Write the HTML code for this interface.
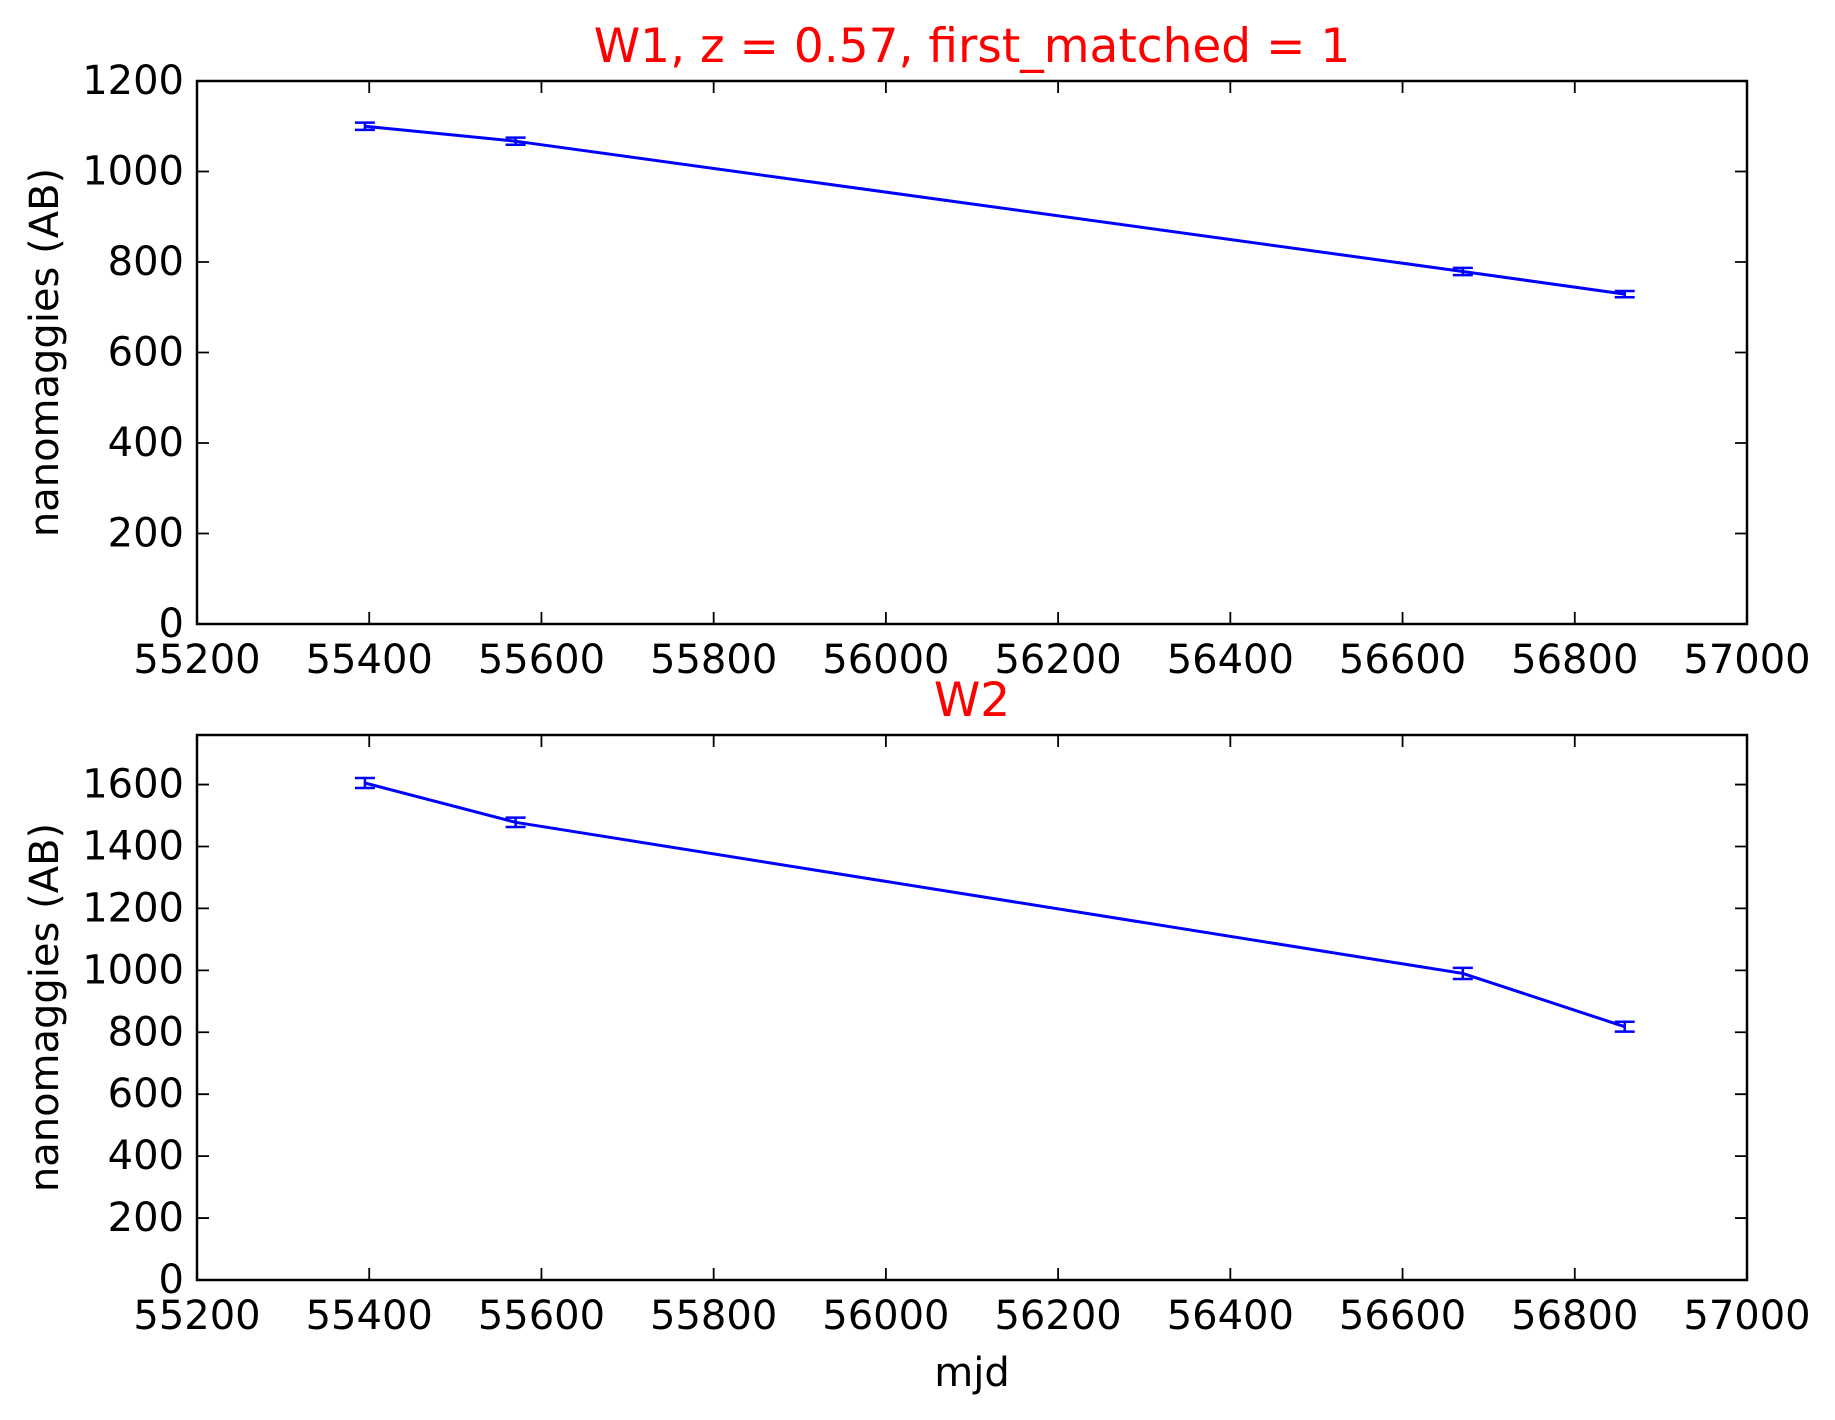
<!DOCTYPE html>
<html><head><meta charset="utf-8"><style>body{margin:0;background:#fff}svg{display:block}text{font-family:"DejaVu Sans","Liberation Sans",sans-serif}</style></head>
<body>
<svg id="chart" width="1835" height="1420" viewBox="0 0 1835 1420" xmlns="http://www.w3.org/2000/svg"></svg>
<script>
const xTicks = [55200,55400,55600,55800,56000,56200,56400,56600,56800,57000];
const w1Mjd = [55395,55570,56670,56858];
const w1Flux = [1100,1067,779,729];
const w1Err = [8,8,8,7];
const w1YTicks = [0,200,400,600,800,1000,1200];
const w2Mjd = [55395,55570,56670,56858];
const w2Flux = [1605,1478,990,818];
const w2Err = [16,15,18,16];
const w2YTicks = [0,200,400,600,800,1000,1200,1400,1600];

const NS='http://www.w3.org/2000/svg';
const svg=document.getElementById('chart');
function mk(tag,attrs,parent){const e=document.createElementNS(NS,tag);for(const k in attrs)e.setAttribute(k,attrs[k]);(parent||svg).appendChild(e);return e;}
const L=197,R=1747;
function xs(v){return L+(v-55200)/(57000-55200)*(R-L);}

function panel(name,top,bottom,ymax,yTicks,mjd,flux,err,title){
  const g=mk('g',{});
  
  
  const ys=v=>bottom-v/ymax*(bottom-top);
  // data line
  let d='';
  mjd.forEach((m,i)=>{d+=(i?'L':'M')+xs(m)+' '+ys(flux[i]);});
  const line=mk('path',{d:d,fill:'none',stroke:'#0000ff','stroke-width':3},g);
  
  
  mjd.forEach((m,i)=>{
    const x=xs(m),y1=ys(flux[i]+err[i]),y2=ys(flux[i]-err[i]);
    const eb=mk('path',{d:`M${x} ${y1}L${x} ${y2}M${x-10} ${y1}L${x+10} ${y1}M${x-10} ${y2}L${x+10} ${y2}`,stroke:'#0000ff','stroke-width':2.5,fill:'none'},g);
    
    
  });
  // frame
  const fr=mk('rect',{x:L,y:top,width:R-L,height:bottom-top,fill:'none',stroke:'#000','stroke-width':2.5},g);
  
  
  xTicks.forEach(t=>{
    const x=xs(t);
    mk('path',{d:`M${x} ${bottom}L${x} ${bottom-12}M${x} ${top}L${x} ${top+12}`,stroke:'#000','stroke-width':1.8},g);
    const tx=mk('text',{x:x,y:bottom+49,'text-anchor':'middle','font-size':40},g);
    tx.textContent=t;
    
    
  });
  yTicks.forEach(t=>{
    const y=ys(t);
    mk('path',{d:`M${L} ${y}L${L+12} ${y}M${R} ${y}L${R-12} ${y}`,stroke:'#000','stroke-width':1.8},g);
    const tx=mk('text',{x:184,y:y+13,'text-anchor':'end','font-size':40},g);
    tx.textContent=t;
    
    
  });
  const yl=mk('text',{x:0,y:0,'text-anchor':'middle','font-size':40,transform:`translate(58 ${(top+bottom)/2}) rotate(-90)`},g);
  yl.textContent='nanomaggies (AB)';
  
  
  const tt=mk('text',{x:(L+R)/2,y:top-19,'text-anchor':'middle','font-size':47,fill:'#ff0000'},g);
  tt.textContent=title;
  
  
}
panel('w1',81,624,1200,w1YTicks,w1Mjd,w1Flux,w1Err,'W1, z = 0.57, first_matched = 1');
panel('w2',735,1280,1760,w2YTicks,w2Mjd,w2Flux,w2Err,'W2');
const xl=mk('text',{x:(L+R)/2,y:1386,'text-anchor':'middle','font-size':40});
xl.textContent='mjd';


</script>
</body></html>
